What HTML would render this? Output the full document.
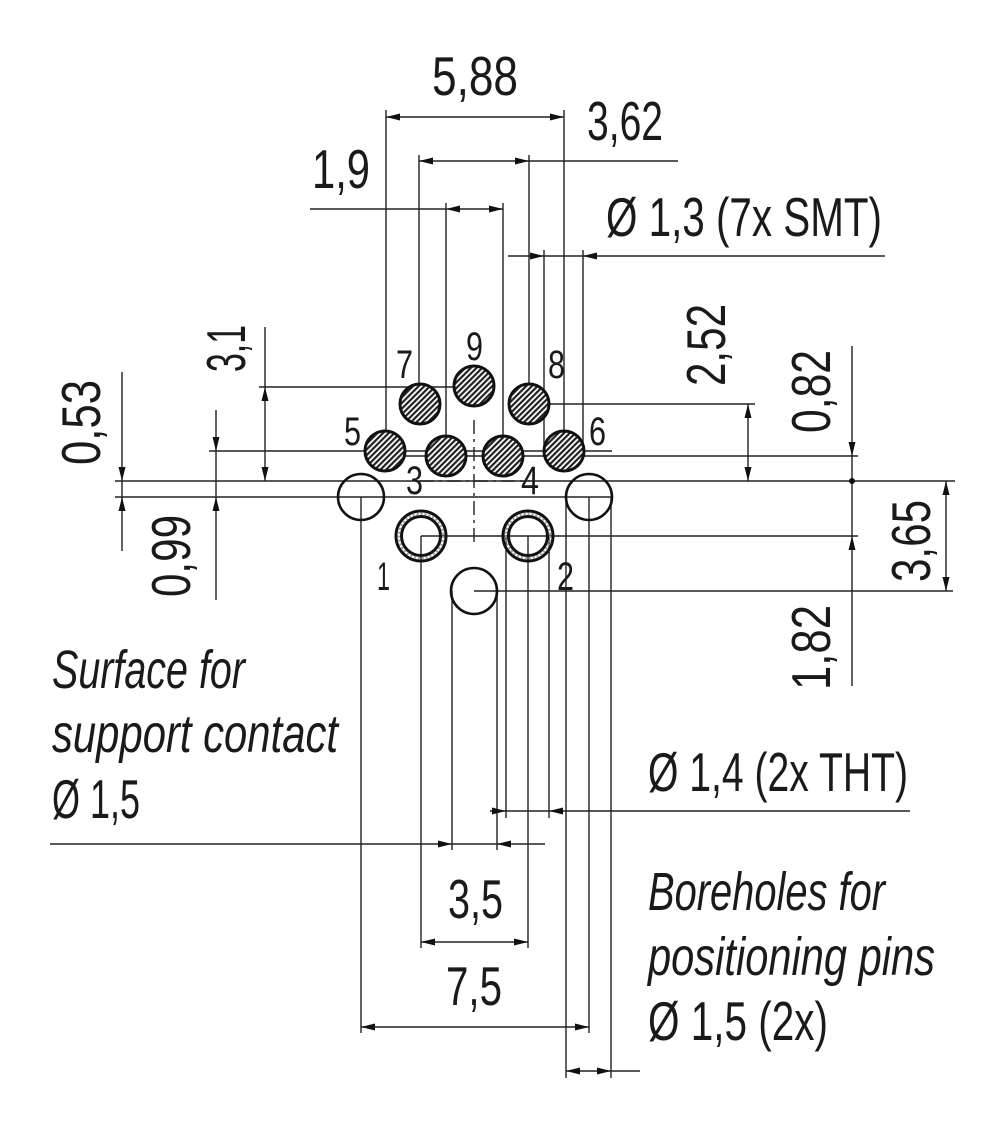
<!DOCTYPE html>
<html><head><meta charset="utf-8"><style>
html,body{margin:0;padding:0;background:#fff}
svg{display:block}
text{font-family:"Liberation Sans",sans-serif;fill:#1a1a1a}
.n{font-size:55px}
.i{font-size:54px;font-style:italic}
.d{font-size:40px}
</style></head><body>
<svg width="1005" height="1127" viewBox="0 0 1005 1127" xmlns="http://www.w3.org/2000/svg">
<defs>
<pattern id="h" width="4" height="4" patternUnits="userSpaceOnUse" patternTransform="rotate(45)">
<rect width="4" height="4" fill="#fff"/><rect width="2.2" height="4" fill="#222"/>
</pattern>
</defs>
<g stroke="#222" stroke-width="1.4" fill="none">
<line x1="386" y1="117" x2="564" y2="117"/>
<line x1="386" y1="110" x2="386" y2="451"/>
<line x1="564" y1="110" x2="564" y2="451"/>
<line x1="419" y1="161" x2="678" y2="161"/>
<line x1="419" y1="155" x2="419" y2="404"/>
<line x1="529" y1="155" x2="529" y2="404"/>
<line x1="310" y1="209" x2="503" y2="209"/>
<line x1="446" y1="203" x2="446" y2="456"/>
<line x1="503" y1="203" x2="503" y2="456"/>
<line x1="508" y1="256" x2="885" y2="256"/>
<line x1="544" y1="250" x2="544" y2="451"/>
<line x1="583" y1="250" x2="583" y2="451"/>
<line x1="259" y1="387" x2="474" y2="387"/>
<line x1="209" y1="451" x2="612" y2="451"/>
<line x1="386" y1="456" x2="858" y2="456"/>
<line x1="115" y1="481" x2="955" y2="481"/>
<line x1="115" y1="497" x2="612" y2="497"/>
<line x1="529" y1="404" x2="755" y2="404"/>
<line x1="421" y1="536" x2="858" y2="536"/>
<line x1="474" y1="591" x2="953" y2="591"/>
<line x1="122" y1="372" x2="122" y2="551"/>
<line x1="216" y1="410" x2="216" y2="600"/>
<line x1="265" y1="327" x2="265" y2="481"/>
<line x1="748" y1="404" x2="748" y2="481"/>
<line x1="852" y1="346" x2="852" y2="686"/>
<line x1="946" y1="481" x2="946" y2="591"/>
<line x1="361" y1="497" x2="361" y2="1033"/>
<line x1="421" y1="536" x2="421" y2="948"/>
<line x1="452" y1="591" x2="452" y2="850"/>
<line x1="497" y1="591" x2="497" y2="850"/>
<line x1="506" y1="536" x2="506" y2="818"/>
<line x1="528" y1="536" x2="528" y2="948"/>
<line x1="549" y1="536" x2="549" y2="818"/>
<line x1="566" y1="497" x2="566" y2="1078"/>
<line x1="589" y1="497" x2="589" y2="1033"/>
<line x1="611" y1="497" x2="611" y2="1078"/>
<line x1="490" y1="811" x2="910" y2="811"/>
<line x1="50" y1="844" x2="545" y2="844"/>
<line x1="421" y1="942" x2="528" y2="942"/>
<line x1="361" y1="1027" x2="589" y2="1027"/>
<line x1="566" y1="1071" x2="640" y2="1071"/>
<line x1="474" y1="420" x2="474" y2="542" stroke-dasharray="14,5,3,5"/>
<line x1="420" y1="481" x2="530" y2="481" stroke-dasharray="14,5,3,5"/>
</g>
<g fill="#111">
<polygon points="386,117 400,113.5 400,120.5"/><polygon points="564,117 550,113.5 550,120.5"/>
<polygon points="419,161 433,157.5 433,164.5"/><polygon points="529,161 515,157.5 515,164.5"/>
<polygon points="446,209 460,205.5 460,212.5"/><polygon points="503,209 489,205.5 489,212.5"/>
<polygon points="544,256 530,252.5 530,259.5"/><polygon points="583,256 597,252.5 597,259.5"/>
<polygon points="506,811 492,807.5 492,814.5"/><polygon points="549,811 563,807.5 563,814.5"/>
<polygon points="452,844 438,840.5 438,847.5"/><polygon points="497,844 511,840.5 511,847.5"/>
<polygon points="421,942 435,938.5 435,945.5"/><polygon points="528,942 514,938.5 514,945.5"/>
<polygon points="361,1027 375,1023.5 375,1030.5"/><polygon points="589,1027 575,1023.5 575,1030.5"/>
<polygon points="566,1071 580,1067.5 580,1074.5"/><polygon points="611,1071 597,1067.5 597,1074.5"/>
<polygon points="122,481 118.5,467 125.5,467"/><polygon points="122,497 118.5,511 125.5,511"/>
<polygon points="216,451 212.5,437 219.5,437"/><polygon points="216,497 212.5,511 219.5,511"/>
<polygon points="265,387 261.5,401 268.5,401"/><polygon points="265,481 261.5,467 268.5,467"/>
<polygon points="748,404 744.5,418 751.5,418"/><polygon points="748,481 744.5,467 751.5,467"/>
<polygon points="852,456 848.5,442 855.5,442"/><polygon points="852,536 848.5,550 855.5,550"/>
<polygon points="946,481 942.5,495 949.5,495"/><polygon points="946,591 942.5,577 949.5,577"/>
<circle cx="852" cy="481" r="3"/>
</g>
<g fill="url(#h)" stroke="#111" stroke-width="3">
<circle cx="420" cy="404" r="20"/><circle cx="474" cy="386" r="20"/><circle cx="529" cy="404" r="20"/>
<circle cx="385" cy="451" r="20"/><circle cx="446" cy="456" r="20"/><circle cx="503" cy="456" r="20"/><circle cx="564" cy="451" r="20"/>
</g>
<g stroke="#111" stroke-width="2.6" fill="none">
<circle cx="361" cy="497" r="23"/><circle cx="589" cy="497" r="23"/><circle cx="474" cy="591" r="23"/>
<circle cx="421" cy="536" r="25" stroke-width="3"/><circle cx="421" cy="536" r="19.5" stroke-width="3"/>
<circle cx="528" cy="536" r="25" stroke-width="3"/><circle cx="528" cy="536" r="19.5" stroke-width="3"/>
<circle cx="421" cy="536" r="22.2" stroke="#999" stroke-width="2" stroke-dasharray="2,2"/>
<circle cx="528" cy="536" r="22.2" stroke="#999" stroke-width="2" stroke-dasharray="2,2"/>
</g>
<text class="d" x="396" y="378" textLength="17" lengthAdjust="spacingAndGlyphs">7</text>
<text class="d" x="466" y="360" textLength="17" lengthAdjust="spacingAndGlyphs">9</text>
<text class="d" x="548" y="378" textLength="17" lengthAdjust="spacingAndGlyphs">8</text>
<text class="d" x="344" y="445" textLength="17" lengthAdjust="spacingAndGlyphs">5</text>
<text class="d" x="589" y="445" textLength="17" lengthAdjust="spacingAndGlyphs">6</text>
<text class="d" x="406" y="494" textLength="17" lengthAdjust="spacingAndGlyphs">3</text>
<text class="d" x="521" y="494" textLength="18" lengthAdjust="spacingAndGlyphs">4</text>
<text class="d" x="377" y="590" textLength="13" lengthAdjust="spacingAndGlyphs">1</text>
<text class="d" x="557" y="590" textLength="17" lengthAdjust="spacingAndGlyphs">2</text>
<text class="n" x="432" y="95" textLength="86" lengthAdjust="spacingAndGlyphs">5,88</text>
<text class="n" x="587" y="140" textLength="76" lengthAdjust="spacingAndGlyphs">3,62</text>
<text class="n" x="312" y="188" textLength="58" lengthAdjust="spacingAndGlyphs">1,9</text>
<text class="n" x="606" y="236" textLength="276" lengthAdjust="spacingAndGlyphs">Ø 1,3 (7x SMT)</text>
<text class="n" x="648" y="791" textLength="260" lengthAdjust="spacingAndGlyphs">Ø 1,4 (2x THT)</text>
<text class="n" x="448" y="918" textLength="55" lengthAdjust="spacingAndGlyphs">3,5</text>
<text class="n" x="446" y="1005" textLength="56" lengthAdjust="spacingAndGlyphs">7,5</text>
<text class="n" x="245" y="372" textLength="47" lengthAdjust="spacingAndGlyphs" transform="rotate(-90 245 372)">3,1</text>
<text class="n" x="100" y="465" textLength="85" lengthAdjust="spacingAndGlyphs" transform="rotate(-90 100 465)">0,53</text>
<text class="n" x="190" y="597" textLength="82" lengthAdjust="spacingAndGlyphs" transform="rotate(-90 190 597)">0,99</text>
<text class="n" x="725" y="386" textLength="82" lengthAdjust="spacingAndGlyphs" transform="rotate(-90 725 386)">2,52</text>
<text class="n" x="830" y="433" textLength="83" lengthAdjust="spacingAndGlyphs" transform="rotate(-90 830 433)">0,82</text>
<text class="n" x="930" y="582" textLength="82" lengthAdjust="spacingAndGlyphs" transform="rotate(-90 930 582)">3,65</text>
<text class="n" x="830" y="690" textLength="85" lengthAdjust="spacingAndGlyphs" transform="rotate(-90 830 690)">1,82</text>
<text class="i" x="52" y="688" textLength="193" lengthAdjust="spacingAndGlyphs">Surface for</text>
<text class="i" x="52" y="752" textLength="286" lengthAdjust="spacingAndGlyphs">support contact</text>
<text class="n" x="52" y="818" textLength="88" lengthAdjust="spacingAndGlyphs">Ø 1,5</text>
<text class="i" x="648" y="910" textLength="237" lengthAdjust="spacingAndGlyphs">Boreholes for</text>
<text class="i" x="648" y="975" textLength="287" lengthAdjust="spacingAndGlyphs">positioning pins</text>
<text class="n" x="648" y="1040" textLength="180" lengthAdjust="spacingAndGlyphs">Ø 1,5 (2x)</text>
</svg>
</body></html>
